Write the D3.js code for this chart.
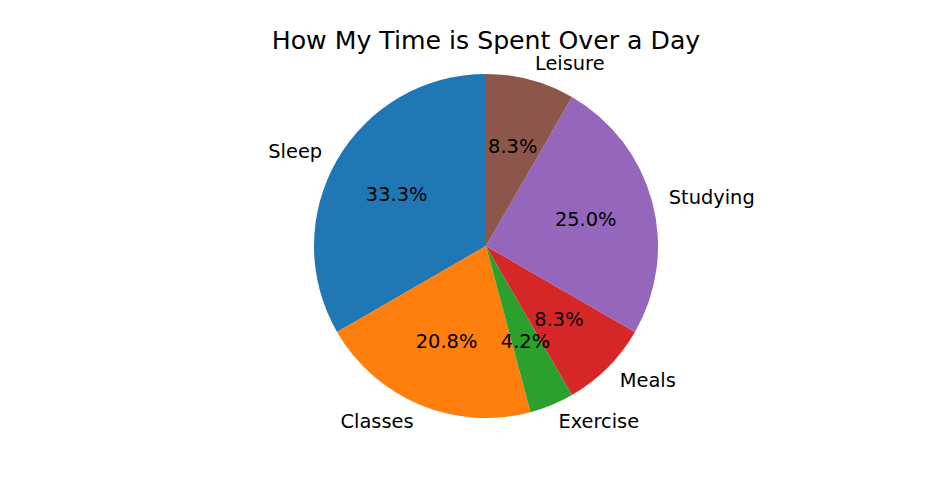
<!DOCTYPE html>
<html>
<head>
<meta charset="utf-8">
<script src="https://cdn.jsdelivr.net/npm/d3@7"></script>
<style>
  html, body { margin: 0; padding: 0; background: #fff; }
  text { font-family: "DejaVu Sans", sans-serif; fill: #000; }
</style>
</head>
<body>
<svg id="chart" width="948" height="488"></svg>
<script>
const categories = ["Sleep", "Classes", "Exercise", "Meals", "Studying", "Leisure"];
const hours = [8, 5, 1, 2, 6, 2];
const colors = ["#1f77b4", "#ff7f0e", "#2ca02c", "#d62728", "#9467bd", "#8c564b"];
const title = "How My Time is Spent Over a Day";

const W = 948, H = 488;
const cx = 486, cy = 246, R = 172;

const svg = d3.select("#chart");
const data = categories.map((c, i) => ({ cat: c, value: hours[i], color: colors[i] }));
const total = d3.sum(hours);

// matplotlib: start at 90°, counterclockwise
const pie = d3.pie().sort(null).value(d => d.value).startAngle(0).endAngle(-2 * Math.PI);
const arcs = pie(data);
const arc = d3.arc().innerRadius(0).outerRadius(R);

const g = svg.append("g").attr("transform", `translate(${cx},${cy})`);

g.selectAll("path.slice").data(arcs).join("path")
  .attr("class", "slice")
  .attr("d", arc)
  .attr("fill", d => d.data.color);

function pos(d, k) {
  const a = (d.startAngle + d.endAngle) / 2;
  return [Math.sin(a) * R * k, -Math.cos(a) * R * k];
}

g.selectAll("text.lbl").data(arcs).join("text")
  .attr("class", "lbl")
  .attr("x", d => pos(d, 1.1)[0])
  .attr("y", d => pos(d, 1.1)[1])
  .attr("dy", "0.36em")
  .attr("text-anchor", d => pos(d, 1.1)[0] > 0 ? "start" : "end")
  .attr("font-size", 19.4)
  .text(d => d.data.cat);

g.selectAll("text.pct").data(arcs).join("text")
  .attr("class", "pct")
  .attr("x", d => pos(d, 0.6)[0])
  .attr("y", d => pos(d, 0.6)[1])
  .attr("dy", "0.36em")
  .attr("text-anchor", "middle")
  .attr("font-size", 19.4)
  .text(d => (d.data.value / total * 100).toFixed(1) + "%");

svg.append("text")
  .attr("x", cx)
  .attr("y", 49)
  .attr("text-anchor", "middle")
  .attr("font-size", 25.2)
  .text(title);
</script>
</body>
</html>
